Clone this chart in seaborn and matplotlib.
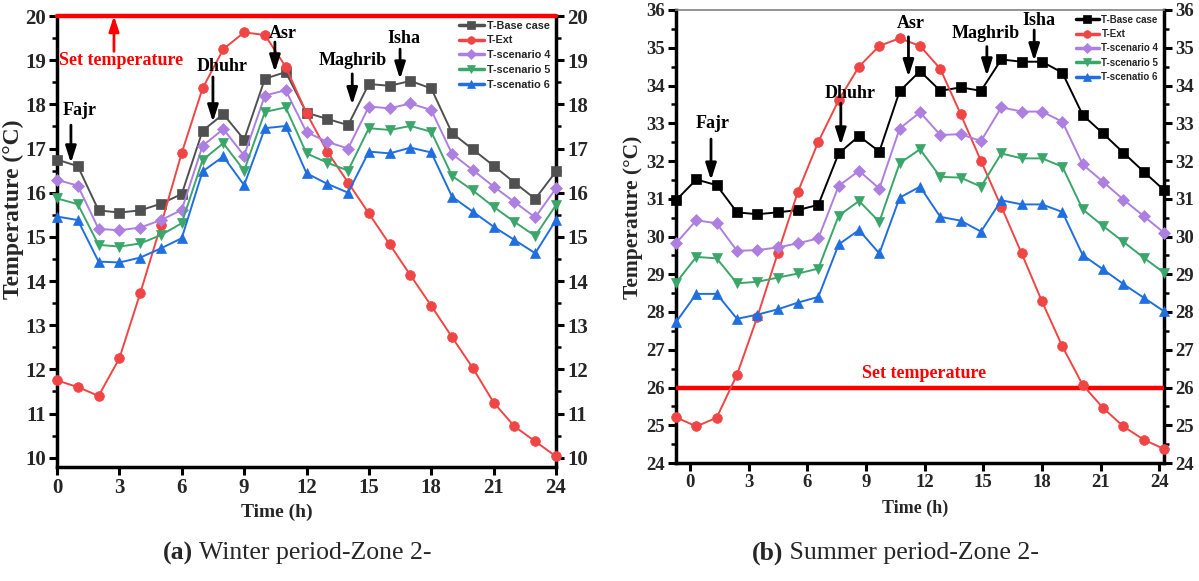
import matplotlib
matplotlib.use("Agg")
import matplotlib.pyplot as plt
import seaborn as sns
from matplotlib.ticker import MultipleLocator
from matplotlib.font_manager import FontProperties

# ---------------- data ----------------
series_names = ["T-Base case", "T-Ext", "T-scenario 4", "T-scenario 5", "T-scenatio 6"]

winter_hours = [0, 1, 2, 3, 4, 5, 6, 7, 8, 9, 10, 11, 12, 13, 14, 15, 16, 17, 18, 19, 20, 21, 22, 23, 24]
winter_base = [16.75, 16.60, 15.60, 15.55, 15.60, 15.75, 15.97, 17.40, 17.78, 17.20, 18.58, 18.73,
               17.81, 17.67, 17.53, 18.46, 18.42, 18.53, 18.36, 17.35, 16.98, 16.61, 16.23, 15.86, 16.48]
winter_ext = [11.75, 11.60, 11.40, 12.25, 13.72, 15.27, 16.90, 18.36, 19.25, 19.63, 19.57, 18.85,
              17.80, 16.93, 16.23, 15.53, 14.83, 14.13, 13.44, 12.73, 12.03, 11.25, 10.71, 10.37, 10.03]
winter_s4 = [16.29, 16.16, 15.18, 15.15, 15.21, 15.38, 15.61, 17.06, 17.44, 16.84, 18.20, 18.32,
             17.37, 17.15, 17.00, 17.95, 17.91, 18.02, 17.87, 16.88, 16.51, 16.14, 15.79, 15.44, 16.10]
winter_s5 = [15.87, 15.74, 14.82, 14.78, 14.85, 15.04, 15.31, 16.74, 17.12, 16.50, 17.83, 17.93,
             16.89, 16.68, 16.50, 17.46, 17.42, 17.51, 17.38, 16.38, 16.05, 15.68, 15.34, 15.02, 15.72]
winter_s6 = [15.46, 15.38, 14.44, 14.42, 14.53, 14.74, 14.97, 16.48, 16.82, 16.17, 17.46, 17.51,
             16.44, 16.20, 16.00, 16.93, 16.89, 17.02, 16.91, 15.91, 15.57, 15.23, 14.93, 14.63, 15.38]

summer_hours = [-0.72, 0.32, 1.36, 2.40, 3.44, 4.48, 5.52, 6.56, 7.60, 8.64, 9.68, 10.72, 11.76,
                12.80, 13.84, 14.88, 15.92, 16.96, 18.00, 19.04, 20.08, 21.12, 22.16, 23.20, 24.24]
summer_base = [30.96, 31.51, 31.36, 30.64, 30.59, 30.64, 30.70, 30.84, 32.20, 32.66, 32.25, 33.85,
               34.38, 33.86, 33.95, 33.86, 34.69, 34.63, 34.63, 34.34, 33.22, 32.73, 32.22, 31.72, 31.23]
summer_ext = [25.21, 24.97, 25.20, 26.34, 27.87, 29.55, 31.19, 32.51, 33.61, 34.50, 35.05, 35.25,
              35.05, 34.44, 33.24, 32.00, 30.79, 29.55, 28.28, 27.09, 26.07, 25.46, 24.97, 24.62, 24.37]
summer_s4 = [29.82, 30.43, 30.35, 29.62, 29.64, 29.71, 29.82, 29.95, 31.34, 31.74, 31.27, 32.86,
             33.29, 32.69, 32.71, 32.53, 33.42, 33.31, 33.31, 33.04, 31.91, 31.45, 30.98, 30.54, 30.10]
summer_s5 = [28.77, 29.46, 29.42, 28.76, 28.80, 28.91, 29.02, 29.15, 30.55, 30.94, 30.39, 31.94,
             32.31, 31.58, 31.56, 31.32, 32.20, 32.07, 32.07, 31.85, 30.72, 30.28, 29.86, 29.44, 29.04]
summer_s6 = [27.73, 28.48, 28.48, 27.82, 27.93, 28.07, 28.25, 28.40, 29.79, 30.17, 29.55, 31.03,
             31.32, 30.52, 30.42, 30.13, 30.96, 30.85, 30.85, 30.65, 29.51, 29.13, 28.74, 28.38, 28.02]

x_ticks = [0, 3, 6, 9, 12, 15, 18, 21, 24]
winter_set_temp = 20
summer_set_temp = 26

prayers = ["Fajr", "Dhuhr", "Asr", "Maghrib", "Isha"]
# (text x, text y, arrow x, arrow top y, arrow tip y)
winter_prayer_pos = [(1.1, 17.85, 0.67, 17.53, 16.67),
                     (7.93, 18.85, 7.5, 18.62, 17.60),
                     (10.87, 19.60, 10.48, 19.41, 18.73),
                     (14.23, 19.00, 14.2, 18.69, 17.99),
                     (16.7, 19.50, 16.5, 19.25, 18.57)]
summer_prayer_pos = [(1.13, 33.00, 1.07, 32.58, 31.49),
                     (8.18, 33.80, 7.71, 33.53, 32.42),
                     (11.30, 35.65, 11.17, 35.29, 34.23),
                     (15.10, 35.39, 15.18, 35.03, 34.25),
                     (17.85, 35.73, 17.60, 35.47, 34.65)]

# ---------------- style ----------------
sns.set_theme(style="ticks")
plt.rcParams["font.family"] = ["Liberation Serif", "DejaVu Serif"]
plt.rcParams["axes.linewidth"] = 2.5

winter_colors = ["#505050", "#f04545", "#ad7fe0", "#3aa66a", "#1f6fe0"]
summer_colors = ["#000000", "#f04545", "#ad7fe0", "#3aa66a", "#1f6fe0"]
markers = ["s", "o", "D", "v", "^"]
msizes = [6.5, 7, 6.5, 7, 7]

fig = plt.figure(figsize=(11.99, 5.81), dpi=100)
ax1 = fig.add_axes([57 / 1199, 1 - 467 / 581, (556 - 57) / 1199, (467 - 16) / 581])
ax2 = fig.add_axes([676 / 1199, 1 - 463 / 581, (1164 - 676) / 1199, (463 - 10) / 581])


def draw(ax, hours, data, colors):
    for name, vals, c, m, ms in zip(series_names, data, colors, markers, msizes):
        sns.lineplot(x=hours, y=vals, ax=ax, color=c, marker=m, markersize=ms,
                     markeredgecolor=c, markeredgewidth=0.5, linewidth=1.4,
                     label=name, clip_on=False, zorder=4)


draw(ax1, winter_hours, [winter_base, winter_ext, winter_s4, winter_s5, winter_s6], winter_colors)
draw(ax2, summer_hours, [summer_base, summer_ext, summer_s4, summer_s5, summer_s6], summer_colors)


def style_axes(ax, ylim, tick_size):
    ax.set_ylim(*ylim)
    ax.set_xticks(x_ticks)
    ax.yaxis.set_major_locator(MultipleLocator(1))
    ax.yaxis.set_minor_locator(MultipleLocator(0.5))
    ax.tick_params(axis="both", which="major", direction="out", length=6, width=2.2,
                   labelsize=tick_size, color="black", pad=2)
    ax.tick_params(axis="y", which="minor", direction="out", length=3.5, width=1.8, color="black")
    ax.tick_params(axis="y", which="both", left=True, right=True, labelleft=True, labelright=True)
    for lab in ax.get_xticklabels() + ax.get_yticklabels():
        lab.set_fontweight("bold")
    for s in ["left", "right", "bottom"]:
        ax.spines[s].set_color("black")
        ax.spines[s].set_linewidth(2.5)
    ax.set_facecolor("white")


style_axes(ax1, (9.79, 20), 15)
style_axes(ax2, (24, 36), 13.5)
ax1.set_xlim(0, 24)
ax2.set_xlim(-0.72, 24.24)
ax1.spines["top"].set_visible(False)
ax2.spines["top"].set_color("#808080")
ax2.spines["top"].set_linewidth(1.2)

ax1.set_ylabel("Temperature (°C)", fontsize=17, fontweight="bold")
ax1.yaxis.set_label_coords(-0.066, 0.572)
ax2.set_ylabel("Temperature (°C)", fontsize=15.5, fontweight="bold")
ax2.yaxis.set_label_coords(-0.068, 0.543)
ax1.set_xlabel("Time (h)", fontsize=14, fontweight="bold")
ax1.xaxis.set_label_coords(0.44, -0.082)
ax2.set_xlabel("Time (h)", fontsize=13, fontweight="bold")
ax2.xaxis.set_label_coords(0.49, -0.08)

# set temperature lines
ax1.axhline(winter_set_temp, color="#ff0000", lw=3.2, zorder=5, clip_on=False)
ax2.axhline(summer_set_temp, color="#ff0000", lw=3.2, zorder=3)
ax1.text(0.1, 19.0, "Set temperature", color="#ff0000", fontsize=13, fontweight="bold",
         ha="left", va="center")
ax1.annotate("", xy=(2.74, 20.0), xytext=(2.74, 19.2),
             arrowprops=dict(arrowstyle="-|>,head_width=0.3,head_length=0.9", color="#ff0000",
                             lw=2, mutation_scale=10, shrinkA=0, shrinkB=0), zorder=6)
ax2.text(11.97, 26.37, "Set temperature", color="#ff0000", fontsize=13, fontweight="bold",
         ha="center", va="center")

for ax, pos in [(ax1, winter_prayer_pos), (ax2, summer_prayer_pos)]:
    for name, (tx, ty, axx, ytop, ytip) in zip(prayers, pos):
        ax.text(tx, ty, name, fontsize=13, fontweight="bold", ha="center", va="center",
                color="black", zorder=7)
        ax.annotate("", xy=(axx, ytip), xytext=(axx, ytop),
                    arrowprops=dict(arrowstyle="-|>,head_width=0.32,head_length=1.0",
                                    color="black", lw=2, mutation_scale=10,
                                    shrinkA=0, shrinkB=0), zorder=7)

# legends
leg1 = ax1.legend(loc="upper left", bbox_to_anchor=(0.805, 0.99), frameon=False,
                  prop=FontProperties(family="Liberation Sans", weight="bold", size=7.8),
                  handlelength=2.3, handletextpad=0.3, labelspacing=0.45,
                  borderpad=0, borderaxespad=0)
leg2 = ax2.legend(loc="upper left", bbox_to_anchor=(0.82, 0.99), frameon=False,
                  prop=FontProperties(family="Liberation Sans", weight="bold", size=7.0),
                  handlelength=2.3, handletextpad=0.3, labelspacing=0.45,
                  borderpad=0, borderaxespad=0)
for leg in (leg1, leg2):
    for h in leg.legend_handles:
        h.set_linewidth(2.5)
        h.set_markersize(5.5)

# captions
cap_fs = 18.5
fig.canvas.draw()
r = fig.canvas.get_renderer()
for label, rest, x0 in [("(a)", " Winter period-Zone 2-", 163 / 1199),
                        ("(b)", " Summer period-Zone 2-", 752 / 1199)]:
    t = fig.text(x0, 1 - 553 / 581, label, fontsize=cap_fs, fontweight="bold", ha="left", va="center")
    bb = t.get_window_extent(renderer=r)
    fig.text(bb.x1 / fig.bbox.width, 1 - 553 / 581, rest, fontsize=cap_fs, ha="left", va="center")

fig.savefig("out.png", dpi=100, facecolor="white")
